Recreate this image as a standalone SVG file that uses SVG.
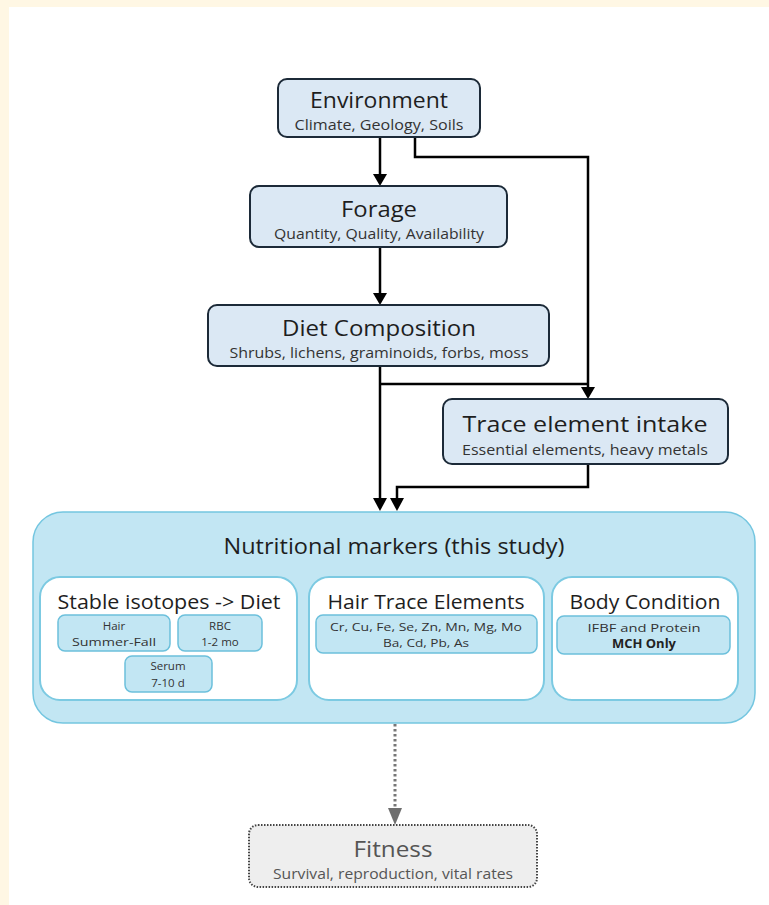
<svg xmlns="http://www.w3.org/2000/svg" width="769" height="905" viewBox="0 0 769 905">
<defs>
<style>
.node rect{fill:#dbe8f4;stroke:#1c2a38;stroke-width:2}
.t{font-family:"Open Sans","Liberation Sans",sans-serif;fill:#1e1e1e;text-anchor:middle}
.big{font-size:21px}
.sm{font-size:14px;fill:#333}
.cond{font-family:"Open Sans","Liberation Sans",sans-serif;font-size:11.5px;fill:#333;text-anchor:middle}
.outer{fill:#c2e6f3;stroke:#74c6e0;stroke-width:1.5}
.inner{fill:#ffffff;stroke:#7ccae2;stroke-width:2}
.sub{fill:#c2e6f3;stroke:#6cc0dc;stroke-width:1.5}
.conn{fill:none;stroke:#000;stroke-width:2.5}
.head{fill:#000}
</style>
</defs>
<rect x="0" y="0" width="769" height="905" fill="#fff7e4"/>
<rect x="9" y="7" width="760" height="898" fill="#ffffff"/>

<g id="connectors">
<path class="conn" d="M380,137 V176"/>
<path class="conn" d="M415,137 V157 H588 V389"/>
<path class="conn" d="M380,247 V295"/>
<path class="conn" d="M380,366 V500"/>
<path class="conn" d="M380,384 H588"/>
<path class="conn" d="M588,464 V487 H397 V500"/>
<path d="M395,724 V810" fill="none" stroke="#777" stroke-width="3" stroke-dasharray="2.5 2.5"/>
<path class="head" d="M373,174 L387,174 L380,186 Z"/>
<path class="head" d="M373,293 L387,293 L380,305 Z"/>
<path class="head" d="M581,387 L595,387 L588,399 Z"/>
<path class="head" d="M373,498 L387,498 L380,511 Z"/>
<path class="head" d="M390,498 L404,498 L397,511 Z"/>
<path d="M388,808 L402,808 L395,825 Z" fill="#6e6e6e"/>
</g>

<g id="environment" class="node">
<rect x="278" y="79" width="202" height="58" rx="9"/>
<text class="t big" x="379" y="108" textLength="138" lengthAdjust="spacingAndGlyphs">Environment</text>
<text class="t sm" x="379" y="130" textLength="169" lengthAdjust="spacingAndGlyphs">Climate, Geology, Soils</text>
</g>

<g id="forage" class="node">
<rect x="250" y="186" width="257" height="61" rx="9"/>
<text class="t big" x="379" y="217" textLength="76" lengthAdjust="spacingAndGlyphs">Forage</text>
<text class="t sm" x="379" y="239" textLength="210" lengthAdjust="spacingAndGlyphs">Quantity, Quality, Availability</text>
</g>

<g id="diet" class="node">
<rect x="208" y="305" width="341" height="61" rx="9"/>
<text class="t big" x="379" y="336" textLength="194" lengthAdjust="spacingAndGlyphs">Diet Composition</text>
<text class="t sm" x="379" y="358" textLength="299" lengthAdjust="spacingAndGlyphs">Shrubs, lichens, graminoids, forbs, moss</text>
</g>

<g id="trace" class="node">
<rect x="443" y="399" width="285" height="65" rx="9"/>
<text class="t big" x="585" y="432" textLength="245" lengthAdjust="spacingAndGlyphs">Trace element intake</text>
<text class="t sm" x="585" y="455" textLength="246" lengthAdjust="spacingAndGlyphs">Essential elements, heavy metals</text>
</g>

<g id="markers">
<rect class="outer" x="33" y="512" width="722" height="211" rx="30"/>
<text class="t" x="394" y="554" font-size="22" textLength="341" lengthAdjust="spacingAndGlyphs">Nutritional markers (this study)</text>
</g>

<g id="isotopes">
<rect class="inner" x="40" y="577" width="257" height="123" rx="20"/>
<text class="t" x="169" y="609" font-size="19.5" textLength="223" lengthAdjust="spacingAndGlyphs">Stable isotopes -&gt; Diet</text>
<rect class="sub" x="58" y="615" width="112" height="36" rx="7"/>
<text class="cond" x="114" y="630">Hair</text>
<text class="cond" x="114" y="646" textLength="84" lengthAdjust="spacingAndGlyphs">Summer-Fall</text>
<rect class="sub" x="178" y="615" width="84" height="36" rx="7"/>
<text class="cond" x="220" y="630">RBC</text>
<text class="cond" x="220" y="646">1-2 mo</text>
<rect class="sub" x="125" y="656" width="87" height="36" rx="7"/>
<text class="cond" x="168" y="670">Serum</text>
<text class="cond" x="168" y="687">7-10 d</text>
</g>

<g id="hair-trace">
<rect class="inner" x="309" y="577" width="235" height="123" rx="20"/>
<text class="t" x="426" y="609" font-size="19.5" textLength="197" lengthAdjust="spacingAndGlyphs">Hair Trace Elements</text>
<rect class="sub" x="316" y="615" width="221" height="38" rx="7"/>
<text class="cond" x="426" y="631" textLength="192" lengthAdjust="spacingAndGlyphs">Cr, Cu, Fe, Se, Zn, Mn, Mg, Mo</text>
<text class="cond" x="426" y="647" textLength="86" lengthAdjust="spacingAndGlyphs">Ba, Cd, Pb, As</text>
</g>

<g id="body">
<rect class="inner" x="552" y="577" width="186" height="123" rx="20"/>
<text class="t" x="645" y="609" font-size="19.5" textLength="151" lengthAdjust="spacingAndGlyphs">Body Condition</text>
<rect class="sub" x="557" y="616" width="173" height="38" rx="7"/>
<text class="cond" x="644" y="632" textLength="113" lengthAdjust="spacingAndGlyphs">IFBF and Protein</text>
<text class="cond" x="644" y="648" font-weight="bold" style="fill:#222" textLength="64" lengthAdjust="spacingAndGlyphs">MCH Only</text>
</g>

<g id="fitness">
<rect x="249" y="825" width="288" height="62" rx="9" fill="#eeeeee" stroke="#444" stroke-width="2" stroke-dasharray="1.5 1.5"/>
<text class="t" x="393" y="857" font-size="21" style="fill:#555" textLength="79" lengthAdjust="spacingAndGlyphs">Fitness</text>
<text class="t" x="393" y="879" font-size="14" style="fill:#555" textLength="240" lengthAdjust="spacingAndGlyphs">Survival, reproduction, vital rates</text>
</g>
</svg>
